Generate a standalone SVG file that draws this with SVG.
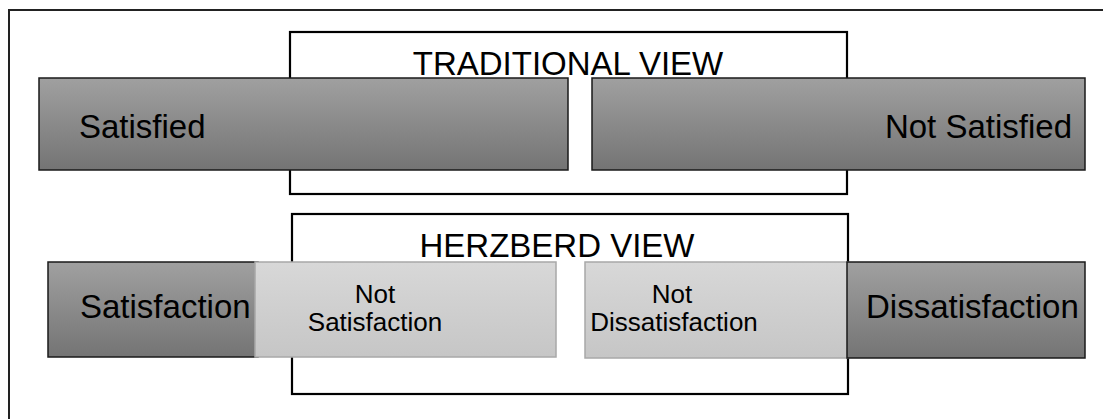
<svg xmlns="http://www.w3.org/2000/svg" width="1103" height="419" viewBox="0 0 1103 419">
  <defs>
    <linearGradient id="dark" x1="0" y1="0" x2="0" y2="1">
      <stop offset="0" stop-color="#a0a0a0"/>
      <stop offset="1" stop-color="#747474"/>
    </linearGradient>
    <linearGradient id="light" x1="0" y1="0" x2="0" y2="1">
      <stop offset="0" stop-color="#d8d8d8"/>
      <stop offset="1" stop-color="#c6c6c6"/>
    </linearGradient>
  </defs>
  <style>
    .frame { fill: #ffffff; stroke: #222222; stroke-width: 2; }
    .view { fill: #ffffff; stroke: #000000; stroke-width: 2.2; }
    .dark { fill: url(#dark); stroke: #1a1a1a; stroke-width: 1.5; }
    .light { fill: url(#light); stroke: #a8a8a8; stroke-width: 1.5; }
    text { font-family: "Liberation Sans", Arial, sans-serif; fill: #000000; }
    .big { font-size: 33px; }
    .small { font-size: 26px; }
  </style>
  <rect width="1103" height="419" fill="#ffffff"/>
  <rect id="frame" class="frame" x="9" y="10" width="1110" height="430"/>

  <g id="traditional-view">
    <rect class="view" x="290" y="32" width="557" height="162"/>
    <text class="big" x="568" y="75" text-anchor="middle">TRADITIONAL VIEW</text>
  </g>
  <g id="satisfied">
    <rect class="dark" x="39" y="78" width="529" height="92"/>
    <text class="big" x="79" y="138">Satisfied</text>
  </g>
  <g id="not-satisfied">
    <rect class="dark" x="592" y="78" width="493" height="92"/>
    <text class="big" x="1072" y="138" text-anchor="end">Not Satisfied</text>
  </g>

  <g id="herzberd-view">
    <rect class="view" x="292" y="214" width="556" height="180"/>
    <text class="big" x="557" y="257" text-anchor="middle">HERZBERD VIEW</text>
  </g>
  <g id="satisfaction">
    <rect class="dark" x="48" y="262" width="210" height="95"/>
    <text class="big" x="80" y="318">Satisfaction</text>
  </g>
  <g id="not-satisfaction">
    <rect class="light" x="255" y="262" width="301" height="95"/>
    <text class="small" x="375" y="303" text-anchor="middle">Not</text>
    <text class="small" x="375" y="331" text-anchor="middle">Satisfaction</text>
  </g>
  <g id="not-dissatisfaction">
    <rect class="light" x="585" y="262" width="263" height="96"/>
    <text class="small" x="672" y="303" text-anchor="middle">Not</text>
    <text class="small" x="674" y="331" text-anchor="middle">Dissatisfaction</text>
  </g>
  <g id="dissatisfaction">
    <rect class="dark" x="847" y="262" width="238" height="96"/>
    <text class="big" x="866" y="318">Dissatisfaction</text>
  </g>
  <g id="connectors"/>
</svg>
